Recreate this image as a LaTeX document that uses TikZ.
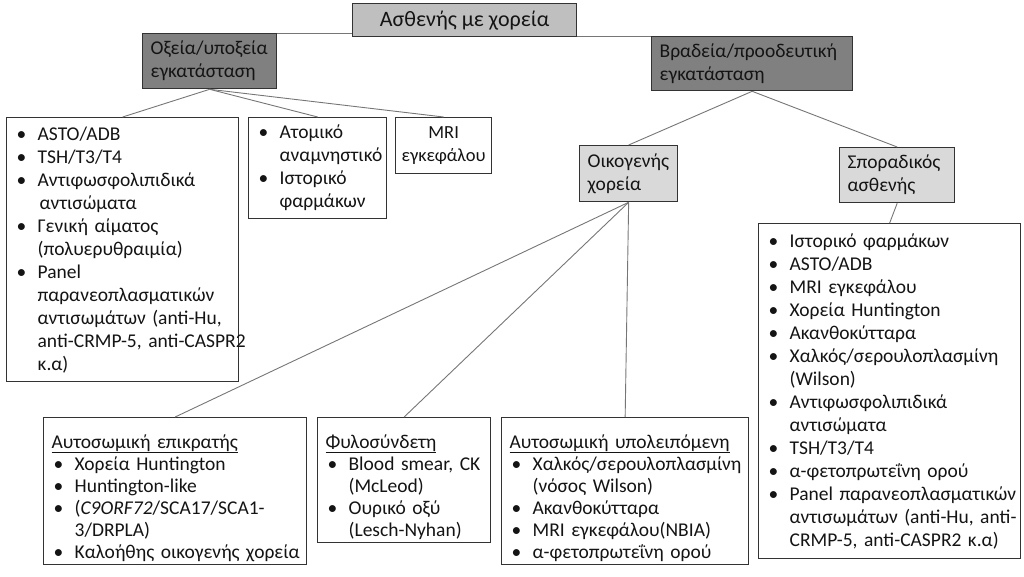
\documentclass[tikz,border=0pt]{standalone}
\usepackage{fontspec}
\setmainfont{Carlito}
\definecolor{boxc}{HTML}{333333}
\definecolor{darkf}{HTML}{808080}
\definecolor{rootf}{HTML}{BFBFBF}
\definecolor{lightf}{HTML}{D9D9D9}
\definecolor{conn}{HTML}{767676}
\definecolor{txt}{HTML}{141414}
\newcommand\bl[1]{\mbox{\makebox[25pt][l]{\hspace{4pt}\textbullet}#1}}
\newcommand\cl[1]{\mbox{\hspace{25pt}#1}}
\newcommand\fsz{\fontsize{19.5}{23}\selectfont}
\newcommand\fszb{\fontsize{19.5}{22}\selectfont}
\tikzset{
  box/.style={draw=boxc, line width=1.3pt, fill=white, anchor=north west,
    inner xsep=6pt, inner ysep=0pt, font=\fsz, text=txt, align=left},
  head/.style={box, inner xsep=8pt},
  conline/.style={draw=conn, line width=0.9pt}
}
\begin{document}
\begin{tikzpicture}[x=1pt,y=-1pt]
\useasboundingbox (0,0) rectangle (1024,577);
% top
\node[box, fill=rootf, minimum width=224pt, minimum height=33pt, align=center,
  font=\fontsize{22}{25}\selectfont] (root) at (352,3) {Ασθενής με χορεία};
\node[head, fill=darkf, text width=118pt, minimum height=55pt] (oxeia) at (142,33)
  {Οξεία/υποξεία\\εγκατάσταση};
\node[head, fill=darkf, text width=185pt, minimum height=54pt] (brad) at (651,36)
  {Βραδεία/προοδευτική\\εγκατάσταση};
% acute children
\node[box, text width=220pt, minimum height=264pt] (b1) at (6,117)
  {\bl{ASTO/ADB}\\\bl{TSH/T3/T4}\\\bl{Αντιφωσφολιπιδικά}\\\cl{\hspace{2pt}αντισώματα}\\
   \bl{Γενική αίματος}\\\cl{(πολυερυθραιμία)}\\
   \bl{Panel}\\\cl{παρανεοπλασματικών}\\\cl{αντισωμάτων (anti-Hu,}\\\cl{anti-CRMP-5, anti-CASPR2}\\\cl{κ.α)}};
\node[box, text width=126pt, minimum height=101pt] (b2) at (248,117)
  {\bl{Ατομικό}\\\cl{αναμνηστικό}\\\bl{Ιστορικό}\\\cl{φαρμάκων}};
\node[box, text width=84pt, minimum height=56pt, align=center,
  font=\fontsize{18.5}{23}\selectfont] (b3) at (395,117)
  {MRI\\εγκεφάλου};
% slow children
\node[head, fill=lightf, text width=82pt, minimum height=56pt] (oik) at (579,145)
  {Οικογενής\\χορεία};
\node[head, fill=lightf, text width=99pt, minimum height=55pt] (spor) at (839,147)
  {Σποραδικός\\ασθενής};
\node[box, text width=250pt, minimum height=335pt] (rbox) at (758,223)
  {\bl{Ιστορικό φαρμάκων}\\\bl{ASTO/ADB}\\\bl{MRI εγκεφάλου}\\\bl{Χορεία Huntington}\\
   \bl{Ακανθοκύτταρα}\\\bl{Χαλκός/σερουλοπλασμίνη}\\\cl{(Wilson)}\\
   \bl{Αντιφωσφολιπιδικά}\\\cl{αντισώματα}\\\bl{TSH/T3/T4}\\\bl{α-φετοπρωτεΐνη ορού}\\
   \bl{Panel παρανεοπλασματικών}\\\cl{αντισωμάτων (anti-Hu, anti-}\\\cl{CRMP-5, anti-CASPR2 κ.α)}};
% familial children
\node[box, text width=251pt, minimum height=147pt, font=\fszb] (ad) at (43,417)
  {\rule{0pt}{27pt}\hspace{2pt}\underline{Αυτοσωμική επικρατής}\\
   \bl{Χορεία Huntington}\\\bl{Huntington-like}\\
   \bl{(\textit{C9ORF72}/SCA17/SCA1-}\\\cl{3/DRPLA)}\\\bl{Καλοήθης οικογενής χορεία}};
\node[box, text width=161pt, minimum height=125pt, font=\fszb] (xl) at (317,417)
  {\rule{0pt}{27pt}\hspace{2pt}\underline{Φυλοσύνδετη}\\
   \bl{Blood smear, CK}\\\cl{(McLeod)}\\\bl{Ουρικό οξύ}\\\cl{(Lesch-Nyhan)}};
\node[box, text width=235pt, minimum height=147pt, font=\fszb] (ar) at (501,417)
  {\rule{0pt}{27pt}\hspace{2pt}\underline{Αυτοσωμική υπολειπόμενη}\\
   \bl{Χαλκός/σερουλοπλασμίνη}\\\cl{(νόσος Wilson)}\\\bl{Ακανθοκύτταρα}\\
   \bl{MRI εγκεφάλου(NBIA)}\\\bl{α-φετοπρωτεΐνη ορού}};
% connectors
\draw[conline] (oxeia.north east) -- (oxeia.north east -| root.west);
\draw[conline] (root.east |- brad.north west) -- (brad.north west);
\draw[conline] (oxeia.south) -- (b1.north);
\draw[conline] (oxeia.south) -- (b2.north);
\draw[conline] (oxeia.south) -- (b3.north);
\draw[conline] (brad.south) -- (oik.north);
\draw[conline] (brad.south) -- (spor.north);
\draw[conline] (spor.south) -- (rbox.north);
\draw[conline] (oik.south) -- (ad.north);
\draw[conline] (oik.south) -- (xl.north);
\draw[conline] (oik.south) -- (ar.north);
\end{tikzpicture}
\end{document}
